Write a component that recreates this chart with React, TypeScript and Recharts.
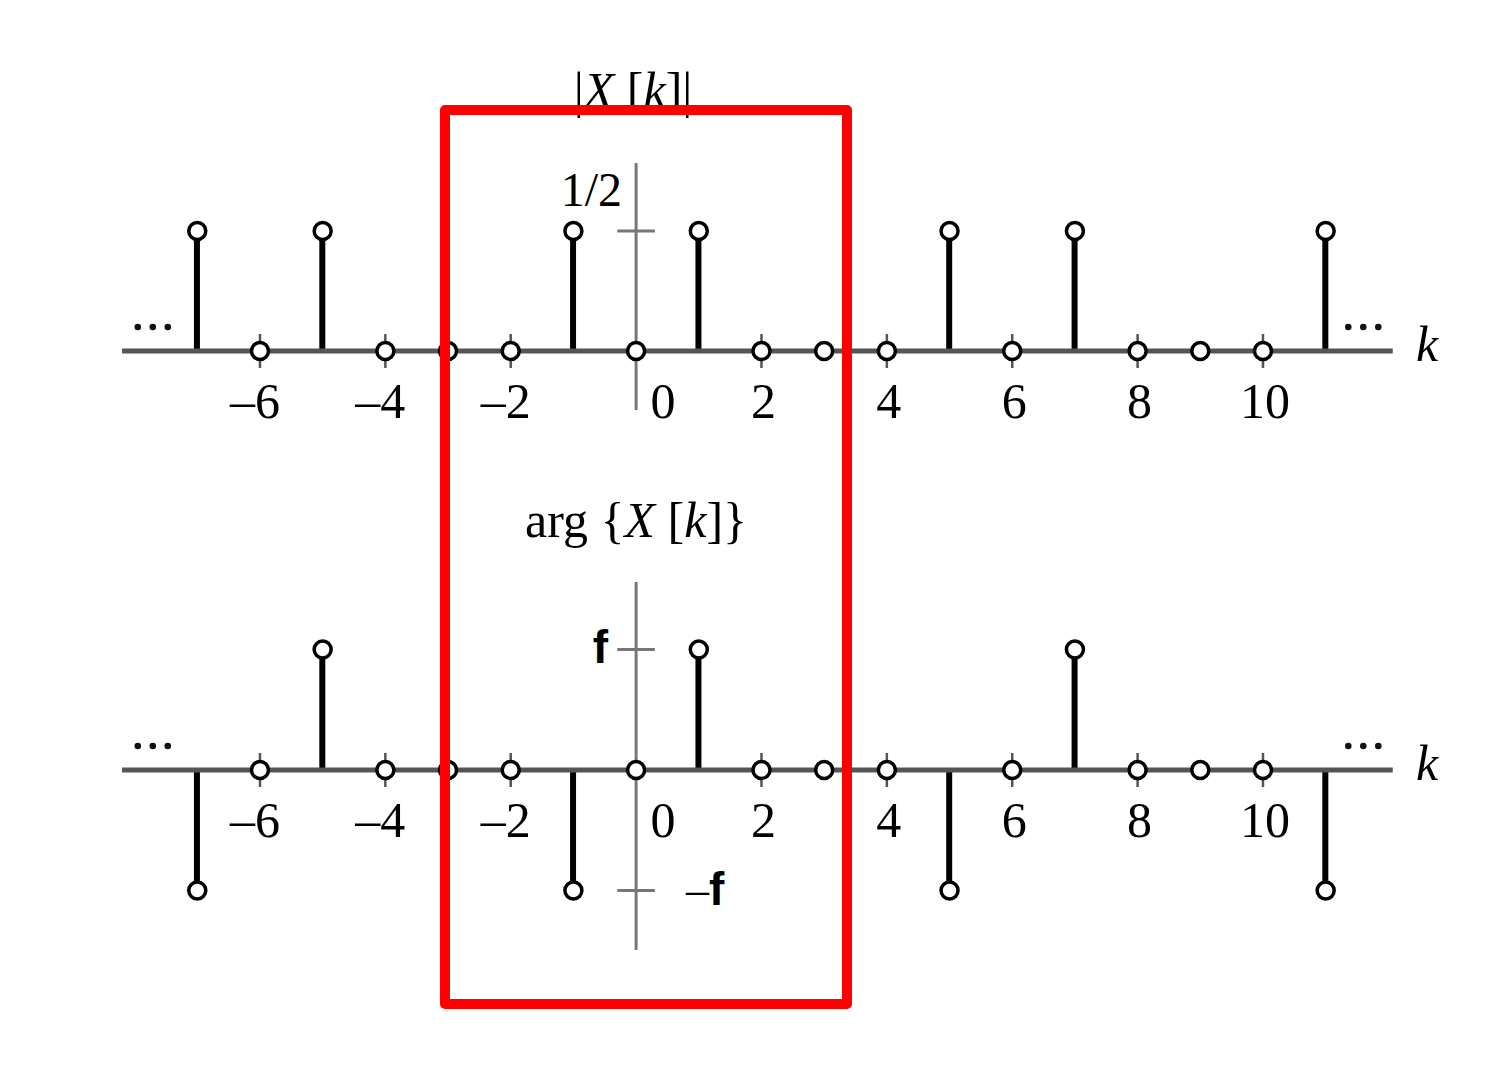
import {
  ComposedChart,
  Bar,
  Scatter,
  XAxis,
  YAxis,
  ReferenceLine,
  ReferenceDot,
} from "recharts";

// k = -7 ... 11
const K = [-7, -6, -5, -4, -3, -2, -1, 0, 1, 2, 3, 4, 5, 6, 7, 8, 9, 10, 11];
// |X[k]|
const MAGNITUDE = [0.5, 0, 0.5, 0, 0, 0, 0.5, 0, 0.5, 0, 0, 0, 0.5, 0, 0.5, 0, 0, 0, 0.5];
// arg{X[k]} in units of "f"
const PHASE = [-1, 0, 1, 0, 0, 0, -1, 0, 1, 0, 0, 0, -1, 0, 1, 0, 0, 0, -1];
const K_TICKS = [-6, -4, -2, 0, 2, 4, 6, 8, 10];

const SERIF = '"Liberation Serif", "Times New Roman", serif';
const SANS = '"Liberation Sans", Arial, sans-serif';
const AXIS_GRAY = "#555";

const magData = K.map((k, i) => ({ k, v: MAGNITUDE[i] }));
const phaseData = K.map((k, i) => ({ k, v: PHASE[i] }));

const X_DOMAIN = [-10.147, 13.749];

const StemHead = (p: any) => (
  <circle cx={p.cx} cy={p.cy} r={8.5} fill="#fff" stroke="#000" strokeWidth={3.5} />
);

const kTick = (k: number) => (p: any) => (
  <g>
    {k !== 0 && (
      <line x1={p.cx} x2={p.cx} y1={p.cy - 17} y2={p.cy + 17} stroke={AXIS_GRAY} strokeWidth={2.5} />
    )}
    <text
      x={p.cx + (k === 0 ? 27 : k < 0 ? -5 : 2)}
      y={p.cy + 67}
      textAnchor="middle"
      fontFamily={SERIF}
      fontSize={50}
      fill="#000"
    >
      {k < 0 ? `\u2013${-k}` : k}
    </text>
  </g>
);

const dots = (p: any) => (
  <g fill="#111">
    <circle cx={p.cx - 15} cy={p.cy - 24} r={3.3} />
    <circle cx={p.cx} cy={p.cy - 24} r={3.3} />
    <circle cx={p.cx + 15} cy={p.cy - 24} r={3.3} />
  </g>
);

const kLabel = (p: any) => (
  <text x={p.cx} y={p.cy + 10} textAnchor="middle" fontFamily={SERIF} fontStyle="italic" fontSize={50}>
    k
  </text>
);

const axisBits = () => [
  <ReferenceLine
    key="hx"
    segment={[{ x: -8.2, y: 0 }, { x: 12.07, y: 0 }]}
    stroke={AXIS_GRAY}
    strokeWidth={5}
  />,
  ...K_TICKS.map((k) => (
    <ReferenceDot key={`t${k}`} x={k} y={0} r={0} shape={kTick(k)} />
  )),
  <ReferenceDot key="dl" x={-7.71} y={0} r={0} shape={dots} />,
  <ReferenceDot key="dr" x={11.6} y={0} r={0} shape={dots} />,
  <ReferenceDot key="kl" x={12.62} y={0} r={0} shape={kLabel} />,
];

const MagnitudePanel = () => (
  <ComposedChart width={1498} height={470} data={magData} margin={{ top: 0, right: 0, bottom: 0, left: 0 }}>
    <XAxis dataKey="k" type="number" domain={X_DOMAIN} allowDataOverflow hide />
    <YAxis type="number" domain={[-0.49583, 1.4625]} allowDataOverflow hide />
    <ReferenceLine segment={[{ x: 0, y: -0.246 }, { x: 0, y: 0.783 }]} stroke="#777" strokeWidth={3} />
    <ReferenceLine segment={[{ x: -0.3, y: 0.5 }, { x: 0.3, y: 0.5 }]} stroke="#777" strokeWidth={3} />
    {axisBits()}
    <ReferenceDot
      x={0}
      y={0.5}
      r={0}
      shape={(p: any) => (
        <text x={p.cx - 14} y={p.cy - 25} textAnchor="end" fontFamily={SERIF} fontSize={48}>
          1/2
        </text>
      )}
    />
    <ReferenceDot
      x={0}
      y={1}
      r={0}
      shape={(p: any) => (
        <text x={p.cx - 3} y={p.cy - 4} textAnchor="middle" fontFamily={SERIF} fontSize={50}>
          |<tspan fontStyle="italic">X</tspan> [<tspan fontStyle="italic">k</tspan>]|
        </text>
      )}
    />
    <Bar dataKey="v" barSize={6} fill="#000" isAnimationActive={false} />
    <Scatter dataKey="v" shape={StemHead} isAnimationActive={false} />
  </ComposedChart>
);

const PhasePanel = () => (
  <ComposedChart width={1498} height={600} data={phaseData} margin={{ top: 0, right: 0, bottom: 0, left: 0 }}>
    <XAxis dataKey="k" type="number" domain={X_DOMAIN} allowDataOverflow hide />
    <YAxis type="number" domain={[-2.4896, 2.4896]} allowDataOverflow hide />
    <ReferenceLine segment={[{ x: 0, y: -1.494 }, { x: 0, y: 1.56 }]} stroke="#777" strokeWidth={3} />
    <ReferenceLine segment={[{ x: -0.3, y: 1 }, { x: 0.3, y: 1 }]} stroke="#777" strokeWidth={3} />
    <ReferenceLine segment={[{ x: -0.3, y: -1 }, { x: 0.3, y: -1 }]} stroke="#777" strokeWidth={3} />
    {axisBits()}
    <ReferenceDot
      x={0}
      y={1}
      r={0}
      shape={(p: any) => (
        <text x={p.cx - 28} y={p.cy + 14} textAnchor="end" fontFamily={SANS} fontWeight="bold" fontSize={46}>
          f
        </text>
      )}
    />
    <ReferenceDot
      x={0}
      y={-1}
      r={0}
      shape={(p: any) => (
        <text x={p.cx + 50} y={p.cy + 14} textAnchor="start" fontSize={46}>
          <tspan fontFamily={SERIF}>{"\u2013"}</tspan>
          <tspan fontFamily={SANS} fontWeight="bold">f</tspan>
        </text>
      )}
    />
    <ReferenceDot
      x={0}
      y={2}
      r={0}
      shape={(p: any) => (
        <text x={p.cx} y={p.cy + 8} textAnchor="middle" fontFamily={SERIF} fontSize={50}>
          arg {"{"}
          <tspan fontStyle="italic">X</tspan> [<tspan fontStyle="italic">k</tspan>]{"}"}
        </text>
      )}
    />
    <Bar dataKey="v" barSize={6} fill="#000" isAnimationActive={false} />
    <Scatter dataKey="v" shape={StemHead} isAnimationActive={false} />
  </ComposedChart>
);

export default function App() {
  return (
    <div style={{ position: "absolute", left: 0, top: 0, width: 1498, height: 1070, background: "#fff" }}>
      <div style={{ position: "absolute", left: 0, top: 0 }}>
        <MagnitudePanel />
      </div>
      <div style={{ position: "absolute", left: 0, top: 470 }}>
        <PhasePanel />
      </div>
      <div
        style={{
          position: "absolute",
          left: 440,
          top: 105,
          width: 412,
          height: 904,
          border: "10px solid #ff0000",
          borderRadius: 5,
          boxSizing: "border-box",
          pointerEvents: "none",
        }}
      />
    </div>
  );
}
